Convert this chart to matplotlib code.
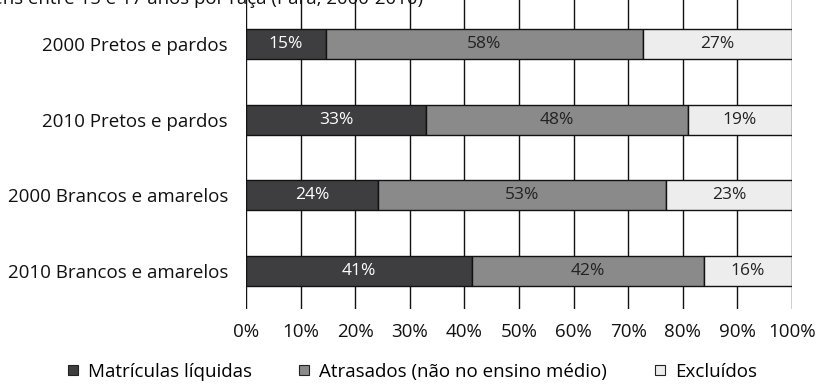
import matplotlib.pyplot as plt
from matplotlib.lines import Line2D
import numpy as np

plt.rcParams['font.family'] = ['Open Sans', 'DejaVu Sans']

# Situação escolar por grupo (% do total)
grupos = ['2000 Pretos e pardos', '2010 Pretos e pardos',
          '2000 Brancos e amarelos', '2010 Brancos e amarelos']
matriculas = [14.6, 33.0, 24.2, 41.4]
atrasados = [58.1, 47.9, 52.7, 42.4]
excluidos = [27.3, 19.1, 23.1, 16.2]
series = ['Matrículas líquidas', 'Atrasados (não no ensino médio)', 'Excluídos']
cores = ['#3e3e40', '#8a8a8a', '#ecedec']
cores_texto = ['white', '#222222', '#222222']

fig = plt.figure(figsize=(8.19, 3.87), dpi=100)
ax = fig.add_axes([246 / 819, 78 / 387, 546 / 819, 309 / 387])

y = np.arange(len(grupos))
left = np.zeros(len(grupos))
for vals, cor, ct in zip([matriculas, atrasados, excluidos], cores, cores_texto):
    bars = ax.barh(y, vals, left=left, height=0.4, color=cor,
                   edgecolor='#111111', linewidth=1, zorder=3)
    for b, v in zip(bars, vals):
        ax.text(b.get_x() + b.get_width() / 2, b.get_y() + b.get_height() / 2,
                f'{v:.0f}%', ha='center', va='center', fontsize=12.5, color=ct, zorder=4)
    left += np.array(vals)

ax.set_xlim(0, 100)
ax.set_ylim(3.506, -0.587)
ax.set_xticks(np.arange(0, 101, 10))
ax.set_xticklabels([f'{t}%' for t in range(0, 101, 10)])
ax.set_yticks(y)
ax.set_yticklabels(grupos)
ax.tick_params(axis='x', length=0, pad=10, labelsize=13.5, colors='#111111')
ax.tick_params(axis='y', length=0, pad=13, labelsize=13.5, colors='#111111')
ax.grid(axis='x', color='#111111', linewidth=1, zorder=0)
for s in ax.spines.values():
    s.set_visible(False)

# título cortado no topo
fig.text(423 / 819, 1 - 4 / 387, 'Jovens entre 15 e 17 anos por raça (Pará, 2000-2010)',
         ha='right', va='baseline', fontsize=13.4, color='#111111')

handles = [Line2D([], [], marker='s', linestyle='none', markersize=6.5,
                  markerfacecolor=c, markeredgecolor='#222222', markeredgewidth=0.8)
           for c in cores]
fig.legend(handles, series, loc='center', bbox_to_anchor=(0.502, 1 - 372 / 387),
           ncol=3, frameon=False, fontsize=13.5, handlelength=0.8, handletextpad=0.4,
           columnspacing=2.4)

fig.savefig('out.png', dpi=100)
